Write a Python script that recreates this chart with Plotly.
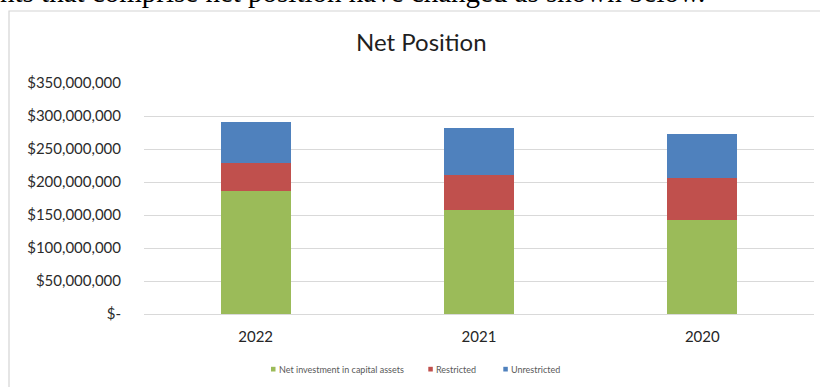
import plotly.graph_objects as go

# Net position by fiscal year, stacked by component
years = ["2022", "2021", "2020"]
net_investment = [186e6, 157e6, 143e6]
restricted = [43e6, 54e6, 63e6]
unrestricted = [62e6, 71e6, 67e6]

series_names = ["Net investment in capital assets", "Restricted", "Unrestricted"]
series_colors = ["#9BBB59", "#C0504D", "#4F81BD"]

y_tickvals = [0, 50e6, 100e6, 150e6, 200e6, 250e6, 300e6, 350e6]
y_ticktext = ["$-", "$50,000,000", "$100,000,000", "$150,000,000",
              "$200,000,000", "$250,000,000", "$300,000,000", "$350,000,000"]

caption = "nts that comprise net position have changed as shown below."

W, H = 820, 387
FONT = "Lato"


def px_x(p):
    return p / W


def px_y(p):
    return 1 - p / H


fig = go.Figure()
for name, vals, col in zip(series_names, [net_investment, restricted, unrestricted], series_colors):
    fig.add_trace(go.Bar(
        x=years, y=vals, name=name, marker=dict(color=col, line=dict(width=0)),
        showlegend=False, xaxis="x", yaxis="y",
    ))

# caption line of the surrounding document, clipped by the chart frame
fig.add_trace(go.Scatter(
    x=[0], y=[9], mode="text", text=[caption], textposition="top right",
    textfont=dict(family="Liberation Serif", size=29, color="#000000"),
    cliponaxis=True, showlegend=False, hoverinfo="skip", xaxis="x2", yaxis="y2",
))

shapes = [
    # chart frame
    dict(type="rect", xref="paper", yref="paper",
         x0=px_x(9), x1=1.05, y0=-0.05, y1=px_y(11),
         line=dict(color="#d4d4d4", width=1.2), fillcolor="rgba(0,0,0,0)", layer="above"),
]

annotations = [
    dict(text="Net Position", xref="paper", yref="paper", x=px_x(421), y=px_y(41.5),
         xanchor="center", yanchor="middle", showarrow=False,
         font=dict(family=FONT, size=24, color="#1f1f1f")),
]

# legend: small swatches with labels
legend_swatch_x = [271, 428.3, 503.3]
for name, col, sx in zip(series_names, series_colors, legend_swatch_x):
    shapes.append(dict(type="rect", xref="paper", yref="paper",
                       x0=px_x(sx), x1=px_x(sx + 4.5), y0=px_y(371.5), y1=px_y(366.8),
                       line=dict(width=0), fillcolor=col))
    annotations.append(dict(text=name, xref="paper", yref="paper",
                            x=px_x(sx + 5.5), y=px_y(369.2), xanchor="left", yanchor="middle",
                            showarrow=False, font=dict(family=FONT, size=9, color="#595959")))

fig.update_layout(
    width=W, height=H,
    margin=dict(l=0, r=0, t=0, b=0, autoexpand=False),
    paper_bgcolor="white", plot_bgcolor="white",
    barmode="stack", bargap=0.687,
    font=dict(family=FONT, color="#333333"),
    xaxis=dict(domain=[px_x(144), px_x(814)], type="category",
               showgrid=False, showline=True, linecolor="#d9d9d9", linewidth=1,
               ticks="", tickfont=dict(size=15, color="#262626"), ticklabelstandoff=9,
               anchor="y", fixedrange=True),
    yaxis=dict(domain=[1 - 314 / H, 1 - 83 / H], range=[0, 350e6],
               tickvals=y_tickvals, ticktext=y_ticktext,
               showgrid=True, gridcolor="#d9d9d9", gridwidth=1,
               zeroline=False, showline=False, ticks="",
               tickfont=dict(size=15, color="#2b2b2b"), ticklabelstandoff=22,
               anchor="x", fixedrange=True),
    xaxis2=dict(domain=[0, 1], range=[0, W], visible=False, anchor="y2", fixedrange=True),
    yaxis2=dict(domain=[1 - 11 / H, 1], range=[11, 0], visible=False, anchor="x2", fixedrange=True),
    shapes=shapes,
    annotations=annotations,
    showlegend=False,
)

fig.write_html("out.html")
